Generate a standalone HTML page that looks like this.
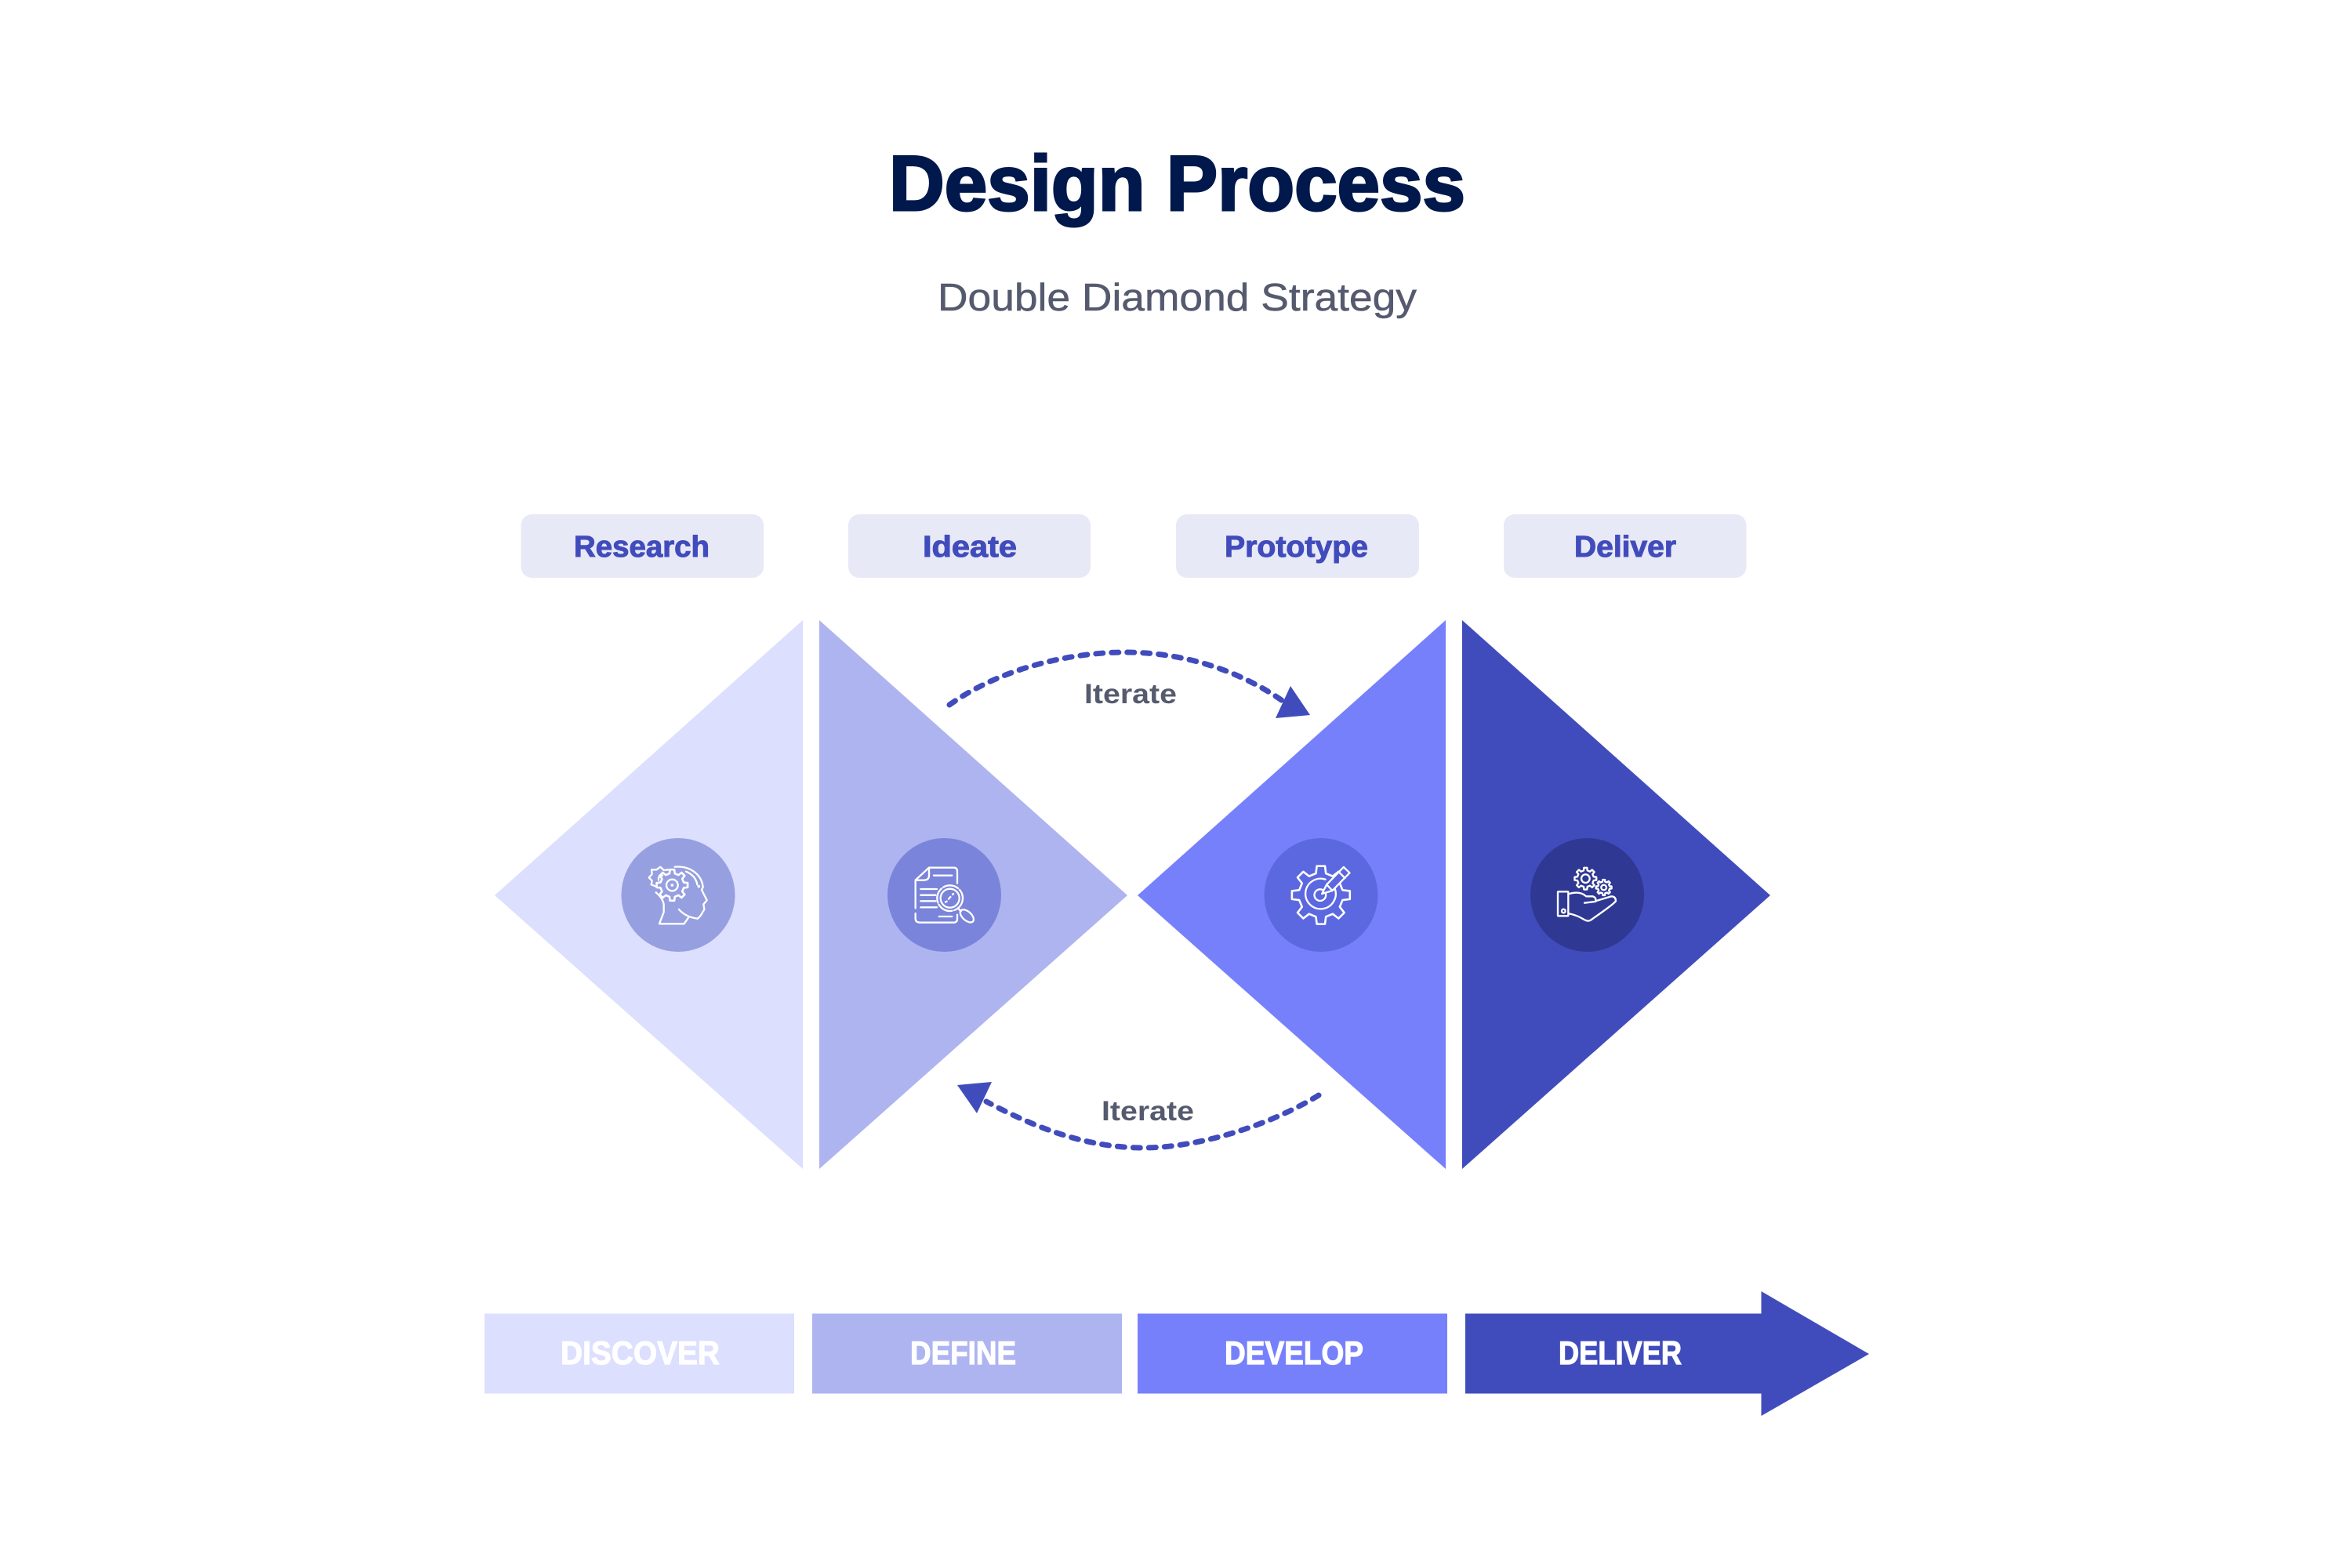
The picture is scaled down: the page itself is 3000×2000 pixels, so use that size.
<!DOCTYPE html>
<html lang="en"><head><meta charset="utf-8"><title>Design Process</title>
<style>html,body{margin:0;padding:0;background:#fff}svg{display:block}text{font-family:"Liberation Sans",sans-serif}</style>
</head><body>
<svg xmlns="http://www.w3.org/2000/svg" width="3000" height="2000" viewBox="0 0 3000 2000">
<defs>
<polygon id="gear" vector-effect="non-scaling-stroke" points=".74,-.171 .99,-.139 .99,.139 .74,.171 .644,.403 .799,.602 .602,.799 .403,.644 .171,.74 .139,.99 -.139,.99 -.171,.74 -.403,.644 -.602,.799 -.799,.602 -.644,.403 -.74,.171 -.99,.139 -.99,-.139 -.74,-.171 -.644,-.403 -.799,-.602 -.602,-.799 -.403,-.644 -.171,-.74 -.139,-.99 .139,-.99 .171,-.74 .403,-.644 .602,-.799 .799,-.602 .644,-.403"/>
</defs>
<rect width="3000" height="2000" fill="#fff"/>

<text x="1134" y="268" font-size="99" font-weight="700" fill="#00184b" stroke="#00184b" stroke-width="3" textLength="735" lengthAdjust="spacingAndGlyphs">Design Process</text>
<text x="1196" y="396" font-size="49" fill="#555a6e" stroke="#555a6e" stroke-width=".5" textLength="611" lengthAdjust="spacingAndGlyphs">Double Diamond Strategy</text>

<g fill="#e8e9f6">
<rect x="664.5" y="656" width="309.5" height="81" rx="14"/>
<rect x="1082" y="656" width="309" height="81" rx="14"/>
<rect x="1500" y="656" width="310" height="81" rx="14"/>
<rect x="1918" y="656" width="309.5" height="81" rx="14"/>
</g>
<g font-size="38" font-weight="700" fill="#414cbc" stroke="#414cbc" stroke-width="1">
<text x="732" y="710" textLength="173" lengthAdjust="spacingAndGlyphs">Research</text>
<text x="1177" y="710" textLength="120" lengthAdjust="spacingAndGlyphs">Ideate</text>
<text x="1562" y="710" textLength="183" lengthAdjust="spacingAndGlyphs">Prototype</text>
<text x="2008" y="710" textLength="130" lengthAdjust="spacingAndGlyphs">Deliver</text>
</g>

<polygon points="1024,791 1024,1491 631,1142" fill="#dcdffd"/>
<polygon points="1045,791 1045,1491 1438,1142" fill="#aeb4f0"/>
<polygon points="1844,791 1844,1491 1451,1142" fill="#7780fb"/>
<polygon points="1865,791 1865,1491 2258,1142" fill="#414cbc"/>

<circle cx="865" cy="1141.5" r="72.5" fill="#969fe0"/>
<circle cx="1204.5" cy="1141.5" r="72.5" fill="#7a84da"/>
<circle cx="1685" cy="1141.5" r="72.5" fill="#5c68e0"/>
<circle cx="2024.5" cy="1141.5" r="72.5" fill="#2f3993"/>

<!-- icon 1 -->
<g transform="translate(780,1060) scale(.33333)" fill="none" stroke="#fff" stroke-width="7" stroke-linecap="round" stroke-linejoin="round">
<path d="M242 137C300 132 345 165 350 215L345 225L365 265L352 280L355 300L340 325L330 335Q285 330 258 300"/>
<path d="M285 155Q322 170 328 205"/>
<path d="M295 330L278 355L183 355L200 310L200 280Q195 255 170 235"/>
<g transform="translate(232,207) scale(60)"><use href="#gear" stroke-width="2.6"/></g>
<circle cx="232" cy="207" r="22"/><circle cx="232" cy="207" r="2" fill="#fff"/>
<path d="M170 212L152 205L155 190L143 178L155 165L153 148L172 148L187 137L200 150L218 148"/>
<path d="M195 170Q178 170 180 188"/>
<circle cx="334" cy="212" r="2" fill="#fff"/>
</g>

<!-- icon 2 -->
<g transform="translate(1115,1060) scale(.33333)" fill="none" stroke="#fff" stroke-width="7" stroke-linecap="round" stroke-linejoin="round">
<path d="M158 295L158 188L210 140L305 140Q318 140 318 155L318 200"/>
<path d="M210 140L210 170Q210 188 190 188L158 188"/>
<path d="M318 320L318 335Q318 350 305 350L175 350Q158 350 158 335L158 315"/>
<path d="M228 170H298M178 222H240M178 245H235M178 268H235M178 292H240M248 327H298"/>
<circle cx="290" cy="257" r="36"/>
<circle cx="290" cy="257" r="49" stroke-dasharray="60 8"/>
<ellipse cx="355" cy="325" rx="31" ry="17" transform="rotate(42 355 325)"/>
<path d="M322 297L332 307M273 272L278 269M285 260L292 252M300 243L303 240"/>
</g>

<!-- icon 3 -->
<g transform="translate(1595.5,1060) scale(.33333)" fill="none" stroke="#fff" stroke-width="7" stroke-linecap="round" stroke-linejoin="round">
<g transform="translate(268,245) scale(112)"><use href="#gear" stroke-width="2.6"/></g>
<path d="M322 222A58 58 0 1 1 285 185"/>
<circle cx="265" cy="245" r="22"/>
<path d="M272 240L290 205L355 138L378 160L312 228Z" fill="#5c68e0"/>
<path d="M335 155L360 180M290 205L312 228"/>
</g>

<!-- icon 4 -->
<g transform="translate(1935,1060) scale(.33333)" fill="none" stroke="#fff" stroke-width="7" stroke-linecap="round" stroke-linejoin="round">
<g transform="translate(262,182) scale(42)"><use href="#gear" stroke-width="2.4"/></g>
<circle cx="262" cy="182" r="16"/>
<g transform="translate(332,216) scale(30)"><use href="#gear" stroke-width="2.4"/></g>
<circle cx="332" cy="216" r="10"/>
<rect x="156" y="232" width="40" height="93" rx="2"/>
<circle cx="178" cy="306" r="7"/>
<path d="M200 240Q240 228 265 250L290 250Q305 255 300 270L258 275"/>
<path d="M300 268L360 250Q378 250 378 268Q370 280 280 342Q270 347 255 338Q230 322 200 316"/>
</g>

<!-- iterate -->
<g fill="none" stroke="#414cbc" stroke-width="7" stroke-linecap="round" stroke-dasharray="9 11">
<path d="M1211 899C1280 850 1370 832 1435 832C1510 832 1580 855 1636 894"/>
<path d="M1682 1397C1620 1435 1530 1464 1458 1464C1385 1464 1320 1438 1258 1405"/>
</g>
<polygon points="1646,875 1671,912 1627,916" fill="#414cbc"/>
<polygon points="1221,1384 1265,1380 1246,1420" fill="#414cbc"/>
<text x="1383" y="897" font-size="35" font-weight="700" fill="#555a6e" textLength="118" lengthAdjust="spacingAndGlyphs">Iterate</text>
<text x="1405" y="1429" font-size="35" font-weight="700" fill="#555a6e" textLength="118" lengthAdjust="spacingAndGlyphs">Iterate</text>

<!-- bottom -->
<rect x="618" y="1675.5" width="395" height="102" fill="#dcdffd"/>
<rect x="1036" y="1675.5" width="395" height="102" fill="#aeb4f0"/>
<rect x="1451" y="1675.5" width="395" height="102" fill="#7780fb"/>
<polygon points="1869,1675.5 2246.5,1675.5 2246.5,1647 2384,1727 2246.5,1806 2246.5,1777.5 1869,1777.5" fill="#414cbc"/>
<g font-size="42" font-weight="700" fill="#fff" stroke="#fff" stroke-width="1.2">
<text x="715" y="1740" textLength="203" lengthAdjust="spacingAndGlyphs">DISCOVER</text>
<text x="1161" y="1740" textLength="135" lengthAdjust="spacingAndGlyphs">DEFINE</text>
<text x="1562" y="1740" textLength="177" lengthAdjust="spacingAndGlyphs">DEVELOP</text>
<text x="1988" y="1740" textLength="157" lengthAdjust="spacingAndGlyphs">DELIVER</text>
</g>
</svg>
</body></html>
